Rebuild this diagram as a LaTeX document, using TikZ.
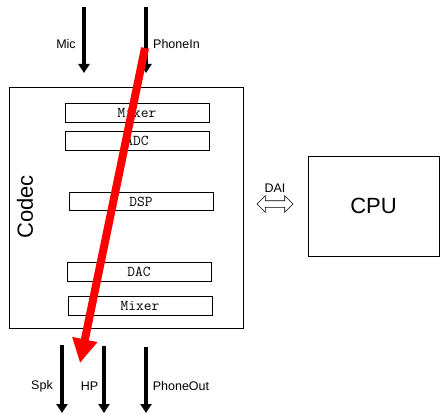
\documentclass[tikz,border=0pt]{standalone}
\usepackage{fontspec}
\setmainfont{Liberation Sans}
\usetikzlibrary{arrows.meta, positioning, shapes.arrows}

\begin{document}
\begin{tikzpicture}[x=1pt,y=-1pt,
    unit/.style={draw, line width=0.8pt, minimum width=144pt, minimum height=19pt, inner sep=0pt, font=\fontsize{15}{17}\ttfamily},
    sig/.style={-{Triangle[width=11pt,length=9pt]}, line width=3.7pt},
    lbl/.style={inner sep=0pt, font=\fontsize{12.5}{15}\selectfont}]
        \useasboundingbox (0,0) rectangle (447,420);
        \node[draw, line width=0.8pt, minimum width=234pt, minimum height=241pt] (codec) at (126,207.5) {};
        \node[rotate=90, font=\fontsize{22}{26}\selectfont] (codec_name) at (25,207) {Codec};
        \node[unit]                 (mix_in)   at (137,112.5)            {Mixer};
        \node[unit]                 (adc)      [below=9pt of mix_in]     {ADC};
        \node[unit, minimum height=18pt] (dsp) at (141,201.5)            {DSP};
        \node[unit]                 (dac)      at (139,271.5)            {DAC};
        \node[unit]                 (mix_out)  [below=15pt of dac, xshift=1pt] {Mixer};

        \node[draw, line width=0.8pt, minimum width=131pt, minimum height=100pt, font=\fontsize{22}{26}\selectfont] (cpu) at (373.5,206) {CPU};
        \node[double arrow, draw, line width=0.6pt, inner sep=3pt, minimum height=36pt, double arrow head extend=5pt] (dai) at (275,204) {};
        \node[lbl]                  (dai_name) [above=8pt of dai]        {DAI};

        % inputs
        \coordinate (mic_a) at (84,7);    \coordinate (mic_b) at (84,73);
        \coordinate (pin_a) at (146,7);   \coordinate (pin_b) at (146,73);
        \draw[sig] (mic_a) -- (mic_b);
        \draw[sig] (pin_a) -- (pin_b);
        \node[lbl] (mic) at (66,44) {Mic};
        \node[lbl, anchor=west] (pin) at (153,44) {PhoneIn};

        % outputs
        \coordinate (spk_a) at (62,345);  \coordinate (spk_b) at (62,413);
        \coordinate (hp_a) at (104,346);  \coordinate (hp_b) at (104,413);
        \coordinate (pout_a) at (146,347); \coordinate (pout_b) at (146,413);
        \draw[sig] (spk_a) -- (spk_b);
        \draw[sig] (hp_a) -- (hp_b);
        \draw[sig] (pout_a) -- (pout_b);
        \node[lbl] (spk) at (42,386) {Spk};
        \node[lbl] (hp) at (89.5,386) {HP};
        \node[lbl] (pout) at (181,386) {PhoneOut};

        % route
        \coordinate (route_a) at (145,48); \coordinate (route_b) at (80,363);
        \draw[red, line width=8pt, -{Triangle[width=24pt,length=24pt]}] (route_a) -- (route_b);
    \end{tikzpicture}
\end{document}
